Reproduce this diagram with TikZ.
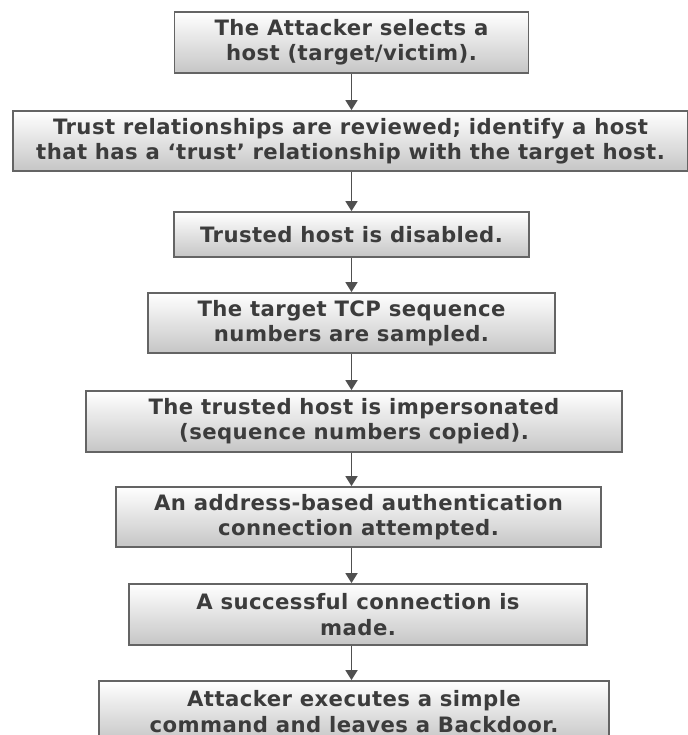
\documentclass[tikz,border=0pt]{standalone}
\usepackage{fontspec}
\newfontfamily\stepfont[LetterSpace=2.0]{DejaVu Sans}
\usepackage{tikz}
\usetikzlibrary{arrows.meta}
\definecolor{boxline}{RGB}{100,100,100}
\definecolor{arrline}{RGB}{80,80,80}
\definecolor{boxtext}{RGB}{60,60,60}

\begin{document}
\begin{tikzpicture}[x=0.5pt, y=-0.5pt,
	stepbox/.style={rectangle, draw=boxline, line width=0.9pt, top color=white, bottom color=gray!45,
		align=center, inner sep=0pt, text=boxtext,
		font=\stepfont\bfseries\fontsize{10.6}{12.6}\selectfont},
	arr/.style={draw=arrline, line width=0.9pt, -{Triangle[width=6pt,length=5pt]}}]
		\useasboundingbox (0,0) rectangle (688,735);
		\clip (0,0) rectangle (688,735);
		\node[stepbox, minimum width=177pt, minimum height=30.5pt] (b1) at (351.5, 42.5) {The Attacker selects a\\host (target/victim).};
		\node[stepbox, minimum width=337.5pt, minimum height=30pt] (b2) at (350.5, 141) {Trust relationships are reviewed; identify a host\\that has a ‘trust’ relationship with the target host.};
		\node[stepbox, minimum width=177.5pt, minimum height=22.5pt] (b3) at (351.5, 234.5) {Trusted host is disabled.};
		\node[stepbox, minimum width=203.5pt, minimum height=30pt] (b4) at (351.5, 323) {The target TCP sequence\\numbers are sampled.};
		\node[stepbox, minimum width=268pt, minimum height=30.5pt] (b5) at (354, 421.5) {The trusted host is impersonated\\(sequence numbers copied).};
		\node[stepbox, minimum width=242.5pt, minimum height=30pt] (b6) at (358.5, 517) {An address-based authentication\\connection attempted.};
		\node[stepbox, minimum width=229pt, minimum height=30.5pt] (b7) at (358, 614.5) {A successful connection is\\made.};
		\node[stepbox, minimum width=255pt, minimum height=30.5pt] (b8) at (354, 711.5) {Attacker executes a simple\\command and leaves a Backdoor.};
		\draw[arr] (b1.south) -- (b1.south |- b2.north);
		\draw[arr] (b2.south -| b1.south) -- (b1.south |- b3.north);
		\draw[arr] (b3.south) -- (b3.south |- b4.north);
		\draw[arr] (b4.south) -- (b4.south |- b5.north);
		\draw[arr] (b5.south -| b4.south) -- (b4.south |- b6.north);
		\draw[arr] (b6.south -| b4.south) -- (b4.south |- b7.north);
		\draw[arr] (b7.south -| b4.south) -- (b4.south |- b8.north);
	\end{tikzpicture}
\end{document}
